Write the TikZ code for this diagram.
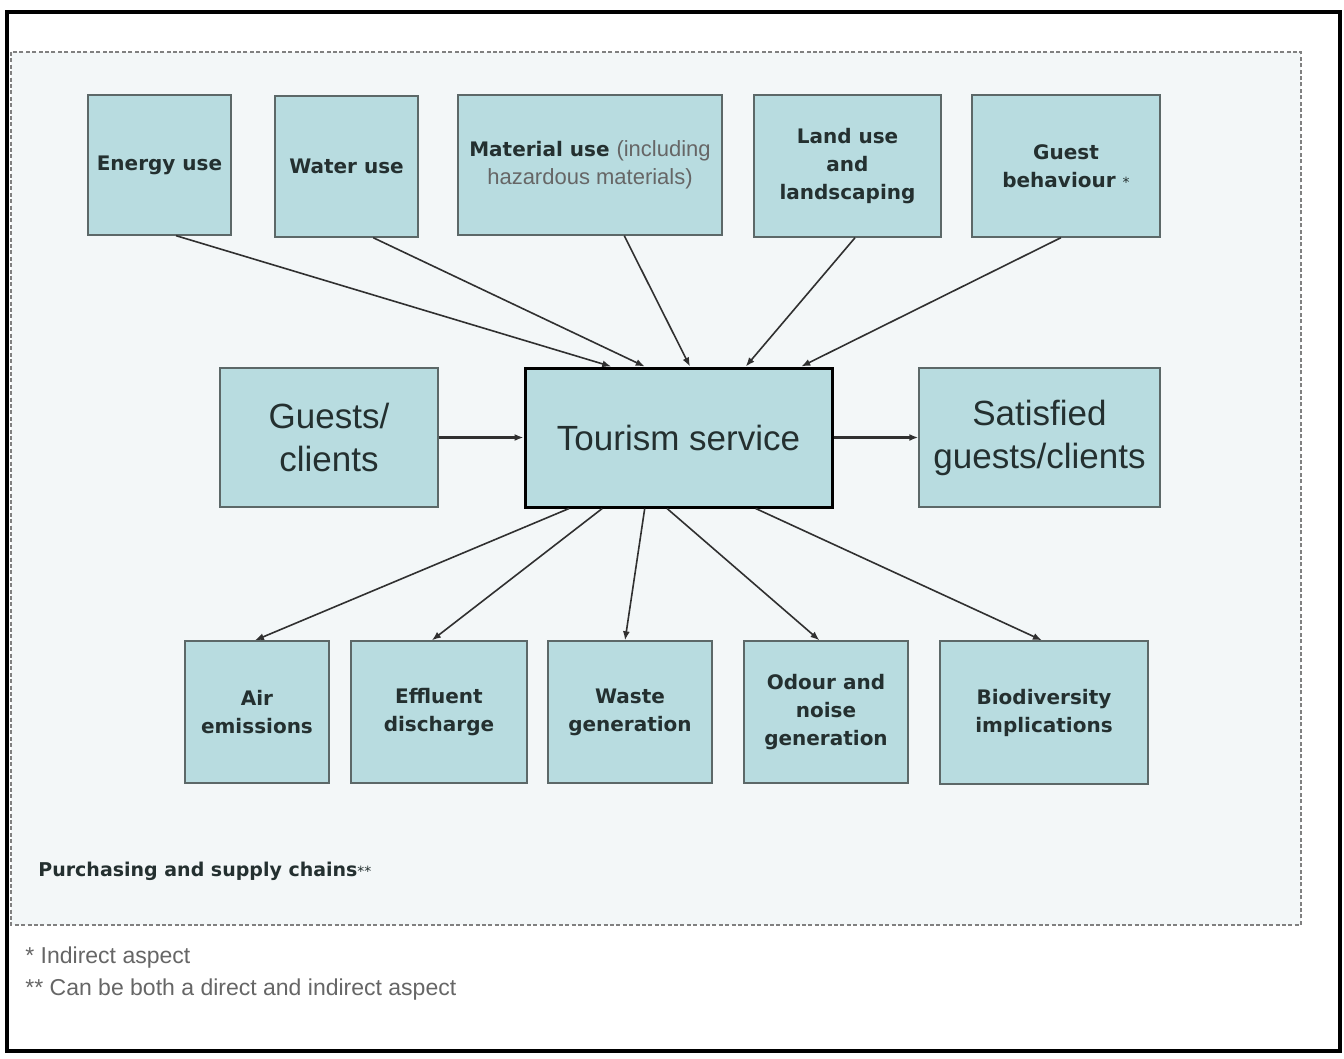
\documentclass[tikz,border=0pt]{standalone}
\usepackage{fontspec}
\setmainfont{Liberation Sans}
\newfontfamily\aspectfont{DejaVu Sans}
\usetikzlibrary{arrows.meta,calc}
\definecolor{boxfill}{HTML}{B8DCE0}
\definecolor{boxline}{HTML}{5C6868}
\definecolor{boxtext}{HTML}{243030}
\definecolor{arrowline}{HTML}{303030}
\definecolor{areafill}{HTML}{F3F7F8}
\definecolor{notegray}{HTML}{666666}
\begin{document}
\begin{tikzpicture}[x=0.5pt,y=-0.5pt,
	aspect/.style={draw=boxline,fill=boxfill,text=boxtext,line width=0.7pt,inner sep=0pt,align=center,font=\aspectfont\bfseries\fontsize{10}{14}\selectfont},
	flow/.style={draw=boxline,fill=boxfill,text=boxtext,line width=0.7pt,inner sep=0pt,align=center,font=\fontsize{17.5}{21.5}\selectfont},
	feed/.style={-{Latex[length=4.5pt,width=3.5pt]},color=arrowline,line width=0.8pt},
	pass/.style={-{Latex[length=4.5pt,width=3.5pt]},color=arrowline,line width=1.5pt}]
		\fill[white] (0,0) rectangle (1344,1059);
		\useasboundingbox (0,0) rectangle (1344,1059);
		\draw[black,line width=2pt] (7,12) rectangle (1340,1051);
		\draw[fill=areafill,draw=gray,line width=0.7pt,dash pattern=on 2pt off 1.2pt] (11,52) rectangle (1301,925);
		
		\node[aspect,minimum width=71.5pt,minimum height=70pt] (energy) at (159.5,165) {Energy use};
		\node[aspect,minimum width=71.5pt,minimum height=70.5pt] (water) at (346.5,166.5) {Water use};
		\node[aspect,minimum width=132pt,minimum height=70pt] (material) at (590,165) {Material use {\mdseries\fontspec{Liberation Sans}\fontsize{11}{14}\selectfont\color{notegray}(including}\\{\mdseries\fontspec{Liberation Sans}\fontsize{11}{14}\selectfont\color{notegray}hazardous materials)}};
		\node[aspect,minimum width=93.5pt,minimum height=71pt] (land) at (847.5,166) {Land use\\and\\landscaping};
		\node[aspect,minimum width=94pt,minimum height=71pt] (guest) at (1066,166) {Guest\\behaviour {\mdseries\fontsize{7}{14}\selectfont*}};
		
		\node[flow,minimum width=109pt,minimum height=69.5pt] (guests) at (329,437.5) {Guests/\\clients};
		\node[flow,draw=black,line width=1.5pt,minimum width=153.5pt,minimum height=69.5pt] (ts) at (678.5,437.5) {Tourism service};
		\node[flow,minimum width=120.5pt,minimum height=69.5pt] (satisfied) at (1039.5,437.5) {Satisfied\\guests/clients};
		
		\node[aspect,minimum width=72pt,minimum height=71pt] (air) at (257,712) {Air\\emissions};
		\node[aspect,minimum width=88pt,minimum height=71pt] (effluent) at (439,712) {Effluent\\discharge};
		\node[aspect,minimum width=82pt,minimum height=71pt] (waste) at (630,712) {Waste\\generation};
		\node[aspect,minimum width=82pt,minimum height=71pt] (odour) at (826,712) {Odour and\\noise\\generation};
		\node[aspect,minimum width=104pt,minimum height=71.5pt] (bio) at (1044,712.5) {Biodiversity\\implications};
		
		\draw[feed] ($(energy.south west)!0.615!(energy.south east)$) -- ($(ts.north west)!0.283!(ts.north east)$);
		\draw[feed] ($(water.south west)!0.685!(water.south east)$) -- ($(ts.north west)!0.391!(ts.north east)$);
		\draw[feed] ($(material.south west)!0.629!(material.south east)$) -- ($(ts.north west)!0.537!(ts.north east)$);
		\draw[feed] ($(land.south west)!0.54!(land.south east)$) -- ($(ts.north west)!0.717!(ts.north east)$);
		\draw[feed] ($(guest.south west)!0.473!(guest.south east)$) -- ($(ts.north west)!0.896!(ts.north east)$);
		
		\draw[pass] (guests.east) -- (ts.west);
		\draw[pass] (ts.east) -- (satisfied.west);
		
		\draw[feed] ($(ts.south west)!0.147!(ts.south east)$) -- ($(air.north west)!0.486!(air.north east)$);
		\draw[feed] ($(ts.south west)!0.254!(ts.south east)$) -- ($(effluent.north west)!0.46!(effluent.north east)$);
		\draw[feed] ($(ts.south west)!0.391!(ts.south east)$) -- ($(waste.north west)!0.47!(waste.north east)$);
		\draw[feed] ($(ts.south west)!0.463!(ts.south east)$) -- ($(odour.north west)!0.46!(odour.north east)$);
		\draw[feed] ($(ts.south west)!0.749!(ts.south east)$) -- ($(bio.north west)!0.49!(bio.north east)$);
		
		\node[anchor=west,inner sep=0pt,text=boxtext,font=\aspectfont\bfseries\fontsize{9.5}{12}\selectfont] (chains) at (38,871) {Purchasing and supply chains{\mdseries\fontsize{7}{12}\selectfont**}};
		\node[anchor=west,inner sep=0pt,text=notegray,font=\fontsize{11.5}{14}\selectfont] (note1) at (25,958) {* Indirect aspect};
		\node[anchor=west,inner sep=0pt,text=notegray,font=\fontsize{11.5}{14}\selectfont] (note2) at (25,990) {** Can be both a direct and indirect aspect};
	\end{tikzpicture}
\end{document}
